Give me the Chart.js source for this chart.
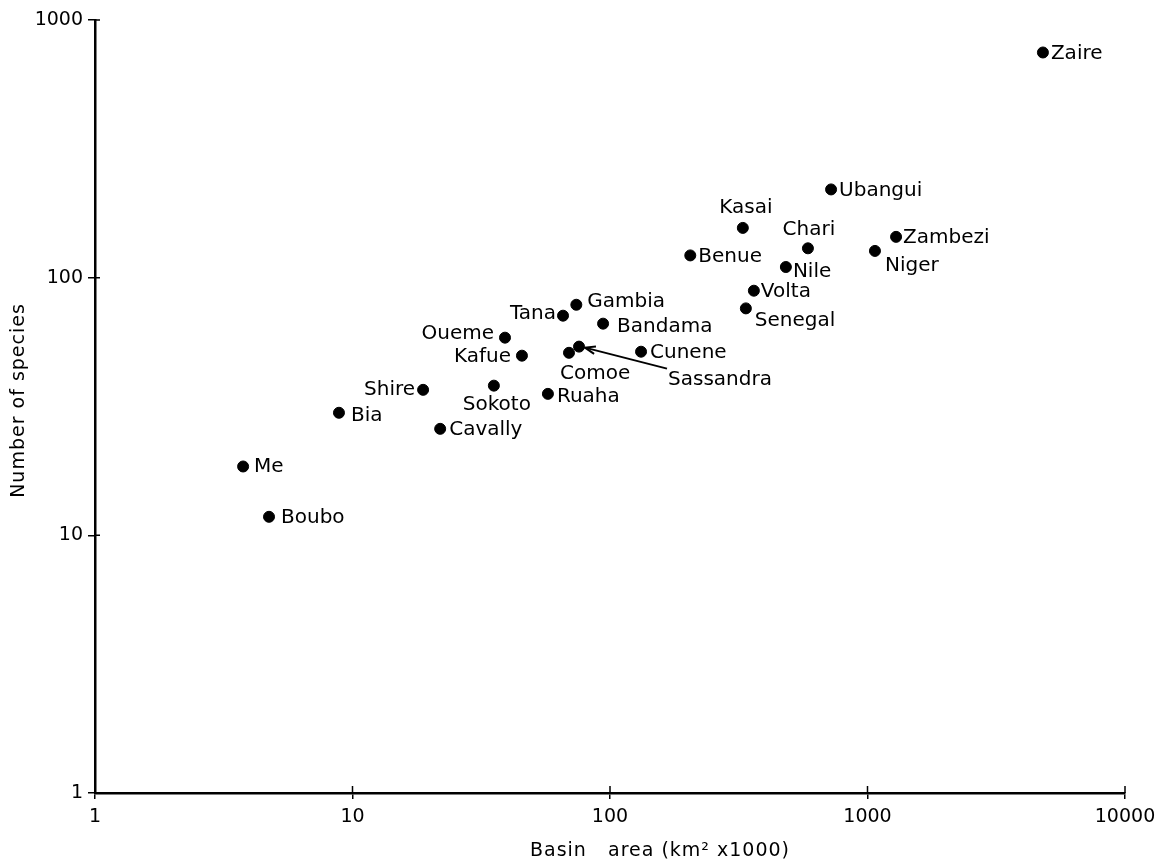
<!DOCTYPE html>
<html>
<head>
<meta charset="utf-8">
<script src="https://cdn.jsdelivr.net/npm/chart.js@4"></script>
<style>
  html, body { margin: 0; padding: 0; background: #fff; }
  #wrap { width: 1170px; height: 862px; }
</style>
</head>
<body>
<div id="wrap"><canvas id="rivers"></canvas></div>
<script>
// data (basin area in km2 x1000, number of fish species)
var rivers = ["Zaire","Ubangui","Kasai","Chari","Zambezi","Niger","Benue","Nile","Volta","Senegal",
              "Gambia","Tana","Bandama","Oueme","Kafue","Comoe","Sassandra","Cunene","Shire","Sokoto",
              "Ruaha","Bia","Cavally","Me","Boubo"];
var basinArea = [4800,722,328,587,1291,1069,205,482,362,337,
                 74,65.7,94,39.1,45.5,69.3,75.8,132,18.8,35.4,
                 57.4,8.86,21.9,3.76,4.74];
var species = [748,220,156,130,144,127,122,110,89,76,
               78.5,71.2,66.3,58.5,49.8,51.1,54,51.6,36.7,38.1,
               35.4,29.9,25.9,18.5,11.8];
var xTicks = [1,10,100,1000,10000];
var yTicks = [1,10,100,1000];

// where each name sits relative to its dot: dx, dy, align
var labelPos = {
    Zaire:[8,1,"left"], Ubangui:[8,1,"left"], Kasai:[3,-20,"center"], Chari:[1,-19,"center"],
    Zambezi:[7,1,"left"], Niger:[10,15,"left"], Benue:[8,1,"left"], Nile:[7,5,"left"],
    Volta:[7,1,"left"], Senegal:[9,12,"left"], Gambia:[11,-3,"left"], Tana:[-7,-2,"right"],
    Bandama:[14,3,"left"], Oueme:[-11,-4,"right"], Kafue:[-11,1,"right"], Comoe:[-9,21,"left"],
    Sassandra:[89,33,"left"], Cunene:[9,1,"left"], Shire:[-8,0,"right"], Sokoto:[3,19,"center"],
    Ruaha:[9,3,"left"], Bia:[12,3,"left"], Cavally:[9,1,"left"], Me:[11,0,"left"], Boubo:[12,1,"left"]
};

var FONT = "'DejaVu Sans', sans-serif";

var points = basinArea.map(function(a, i){ return {x: a, y: species[i]}; });

// names, the Sassandra arrow, inner tick halves and axis titles
var decorations = {
    id: "decorations",
    afterDatasetsDraw: function(chart){
        var ctx = chart.ctx;
        var meta = chart.getDatasetMeta(0);
        ctx.save();
        ctx.fillStyle = "#000";
        ctx.font = "20px " + FONT;
        ctx.textBaseline = "middle";
        meta.data.forEach(function(el, i){
            var p = labelPos[rivers[i]];
            ctx.textAlign = p[2];
            ctx.fillText(rivers[i], el.x + p[0], el.y + p[1]);
        });

        // arrow from the Sassandra label to its dot
        var s = meta.data[rivers.indexOf("Sassandra")];
        var x0 = s.x + 88, y0 = s.y + 22, x1 = s.x + 6, y1 = s.y + 1;
        ctx.strokeStyle = "#000";
        ctx.lineWidth = 2;
        ctx.beginPath();
        ctx.moveTo(x0, y0);
        ctx.lineTo(x1, y1);
        ctx.stroke();
        var ang = Math.atan2(y0 - y1, x0 - x1);
        ctx.beginPath();
        ctx.moveTo(x1 + 11*Math.cos(ang - 0.35), y1 + 11*Math.sin(ang - 0.35));
        ctx.lineTo(x1, y1);
        ctx.lineTo(x1 + 11*Math.cos(ang + 0.35), y1 + 11*Math.sin(ang + 0.35));
        ctx.stroke();
        ctx.restore();
    },
    afterDraw: function(chart){
        var ctx = chart.ctx, area = chart.chartArea;
        var xs = chart.scales.x, ys = chart.scales.y;
        ctx.save();
        ctx.strokeStyle = "#000";
        ctx.lineWidth = 1.5;
        ctx.beginPath();
        xTicks.forEach(function(v){
            var px = xs.getPixelForValue(v);
            ctx.moveTo(px, area.bottom);
            ctx.lineTo(px, area.bottom - 7);
        });
        yTicks.forEach(function(v){
            var py = ys.getPixelForValue(v);
            ctx.moveTo(area.left, py);
            ctx.lineTo(area.left + 5, py);
        });
        ctx.stroke();

        ctx.fillStyle = "#000";
        ctx.font = "19px " + FONT;
        ctx.textAlign = "center";
        ctx.textBaseline = "middle";
        ctx.letterSpacing = "1px";
        ctx.fillText("Basin   area (km\u00b2 x1000)", (area.left + area.right) / 2 + 50, 851);
        ctx.translate(19, (area.top + area.bottom) / 2 - 6);
        ctx.rotate(-Math.PI / 2);
        ctx.fillText("Number of species", 0, 0);
        ctx.restore();
    }
};

var tickFont = {family: FONT, size: 19};

var ctx1 = document.getElementById("rivers").getContext("2d");
var chart1 = new Chart(ctx1, {
    type: "scatter",
    data: {
        datasets: [{
            data: points,
            backgroundColor: "#000",
            borderColor: "#000",
            pointRadius: 5.5,
            pointHoverRadius: 5.5
        }]
    },
    options: {
        responsive: true,
        maintainAspectRatio: false,
        animation: false,
        events: [],
        layout: { padding: {top: 20, right: 45, left: 0, bottom: 0} },
        plugins: { legend: {display: false}, tooltip: {enabled: false} },
        scales: {
            x: {
                type: "logarithmic",
                min: 1,
                max: 10000,
                afterBuildTicks: function(s){ s.ticks = xTicks.map(function(v){ return {value: v}; }); },
                afterFit: function(s){ s.height = 69; },
                ticks: {
                    autoSkip: false, maxRotation: 0, color: "#000", font: tickFont, padding: 7,
                    callback: function(v){ return String(v); }
                },
                grid: { drawOnChartArea: false, drawTicks: true, tickLength: 6, color: "#000", lineWidth: 1.5 },
                border: { color: "#000", width: 2.5 }
            },
            y: {
                type: "logarithmic",
                min: 1,
                max: 1000,
                afterBuildTicks: function(s){ s.ticks = yTicks.map(function(v){ return {value: v}; }); },
                afterFit: function(s){ s.width = 95; },
                ticks: {
                    autoSkip: false, color: "#000", font: tickFont, padding: 5,
                    callback: function(v){ return String(v); }
                },
                grid: { drawOnChartArea: false, drawTicks: true, tickLength: 7, color: "#000", lineWidth: 1.5 },
                border: { color: "#000", width: 2.5 }
            }
        }
    },
    plugins: [decorations]
});
</script>
</body>
</html>
